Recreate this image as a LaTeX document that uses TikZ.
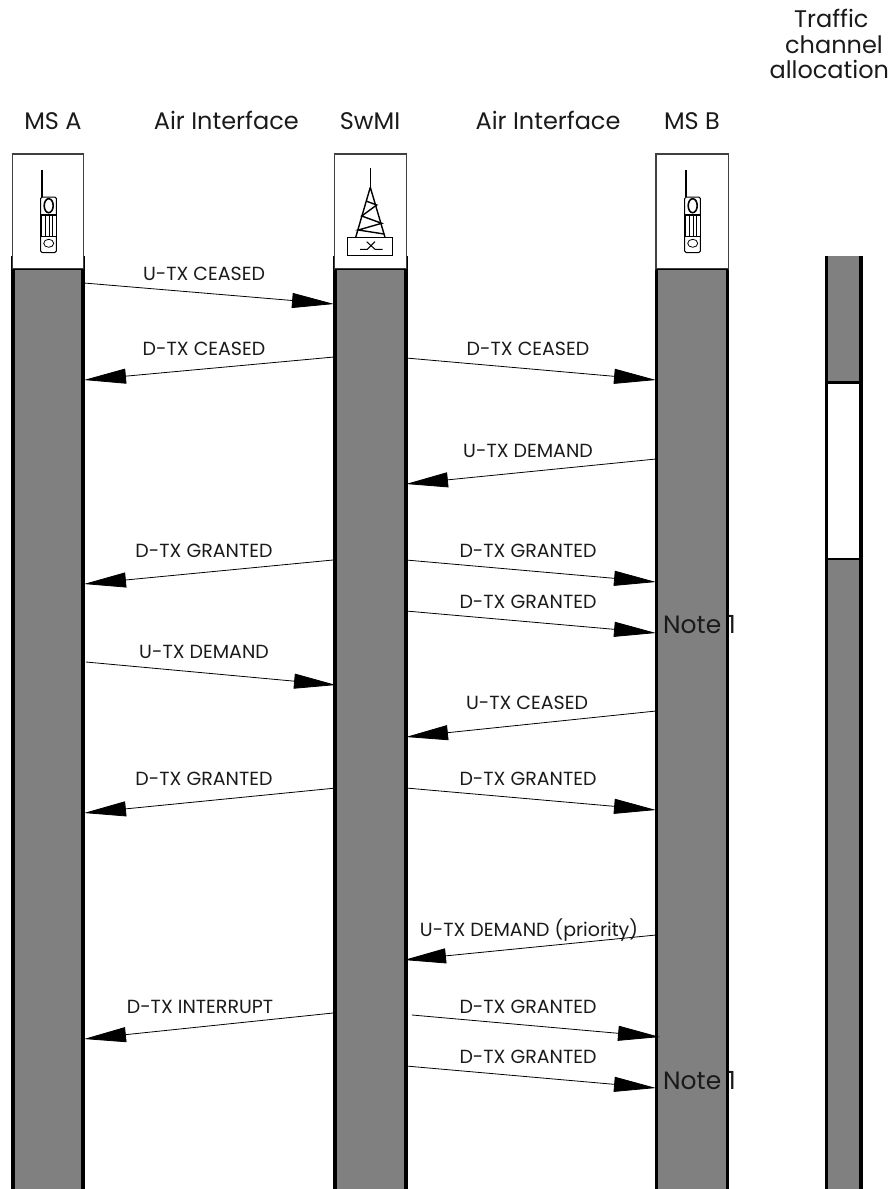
\documentclass[tikz,border=0pt]{standalone}
\usepackage{fontspec}
\setmainfont{Poppins}
\usetikzlibrary{arrows.meta}
\definecolor{bargray}{HTML}{808080}
\definecolor{textgray}{HTML}{1A1A1A}
\tikzset{
  lifebar/.style={fill=bargray},
  edgebar/.style={fill=black},
  iconbox/.style={draw=black!75,fill=white,line width=1.1pt},
  msg/.style={line width=.8pt,-{Triangle[length=42pt,width=15pt]}},
  msgtext/.style={font=\fontsize{19}{19}\selectfont,text=textgray,inner sep=0pt,anchor=base},
  headtext/.style={font=\fontsize{24}{24}\selectfont,text=textgray,inner sep=0pt,anchor=base},
  notetext/.style={font=\fontsize{25}{25}\selectfont,text=textgray,inner sep=0pt,anchor=base},
}
\newcommand{\phoneicon}[1]{%
\begin{scope}[shift={(#1,0)}]
\draw[line width=1.6pt] (.3,170)--(.3,197);
\draw[line width=1pt,rounded corners=1.5pt] (-1,197) rectangle (14.7,252.5);
\draw[line width=1.6pt] (7,205.7) ellipse (4.5 and 7);
\fill[white] (-1,215) rectangle (14.7,236.5);
\draw[line width=.7pt,step=3.6] (0,215) grid (14.4,236.5);
\draw[line width=1.4pt] (-1,215)--(14.7,215) (-1,236.5)--(14.7,236.5);
\draw[line width=.8pt] (7,243.3) ellipse (5 and 4);
\end{scope}}
\begin{document}
\begin{tikzpicture}[x=1pt,y=-1pt]
\useasboundingbox (0,0) rectangle (890,1189);
% life lines
\foreach \name/\xa/\xb/\xc/\xd in {msa/11/15/81/84.8,swmi/333.3/336.8/404/407.6,msb/654.8/658.3/725.6/729.2} {
\fill[edgebar] (\xa,256) rectangle (\xd,1189);
\fill[lifebar] (\xb,256) rectangle (\xc,1189);
\draw[iconbox] (\xa+1.2,154) rectangle (\xd-1,269);
\draw[black,line width=.8pt] (\xa+1.2,269)--(\xd-1,269);
}
% traffic channel
\fill[edgebar] (825,256) rectangle (862.6,1189);
\fill[lifebar] (828,256) rectangle (858.6,1189);
\fill[white] (828,384) rectangle (858.6,558.3);
\fill[edgebar] (825,381.2) rectangle (862.6,384.4);
\fill[edgebar] (825,558) rectangle (862.6,560.2);
% icons
\phoneicon{41.7}
\phoneicon{685.7}
\draw[line width=1.4pt] (370.3,168.3)--(370.3,187.3);
\draw[line width=1.4pt] (370.3,187.3)--(355.7,237.3) (370.3,187.3)--(385,237.3);
\draw[line width=1.4pt] (366,201)--(376.7,205)--(361.7,216)--(381.7,223.3)--(358.3,230)--(384,234);
\draw[line width=1pt] (347.7,237.3) rectangle (392.3,255);
\draw[line width=1pt] (360,249.3)--(367.3,249.3)--(375,241.7) (366.7,241.7)--(375,249.3)--(382.7,249.3);
% headers
\foreach \name/\xa/\txt in {hma/53/MS A,hai/226.3/Air Interface,hsw/370/SwMI,haj/548/Air Interface,hmb/692/MS B}
\node[headtext] (\name) at (\xa,129.3) {\txt};
\node[headtext] (traffic) at (831.3,27.7) {Traffic};
\node[headtext] (channel) at (834,53.3) {channel};
\node[headtext] (alloc) at (829.3,78.3) {allocation};
% messages
\foreach \n/\xa/\ya/\xb/\yb/\lx/\ly/\txt in {
1/84/283/334/304/204/280.5/U-TX CEASED,
2/334/357/84/380/204/355.5/D-TX CEASED,
3/406/358/656/380/528/355.5/D-TX CEASED,
4/656/459/406/484/528/457.5/U-TX DEMAND,
5/333/560/84/584/204/557.5/D-TX GRANTED,
6/406/560/656/582/528/557.5/D-TX GRANTED,
7/406/611/656/633/528/608.5/D-TX GRANTED,
8/86/662/336/685/204/658.5/U-TX DEMAND,
9/656/711/406/737/527/709.5/U-TX CEASED,
10/336/788/84/813/204/785.5/D-TX GRANTED,
11/406/788/656/810/528/785.5/D-TX GRANTED,
12/656/935/404/960/529/936.7/U-TX DEMAND (priority),
13/333/1013/84/1039/200/1013/D-TX INTERRUPT,
14/412/1015/660/1037/528/1013/D-TX GRANTED,
15/406/1066/656/1088/528/1063.5/D-TX GRANTED} {
\coordinate (s\n) at (\xa,\ya);
\coordinate (e\n) at (\xb,\yb);
\draw[msg] (s\n)--(e\n);
\node[msgtext] (l\n) at (\lx,\ly) {\txt};
}
\node[notetext] (note1) at (699.5,633) {Note 1};
\node[notetext] (note2) at (699.5,1089) {Note 1};
\end{tikzpicture}
\end{document}
